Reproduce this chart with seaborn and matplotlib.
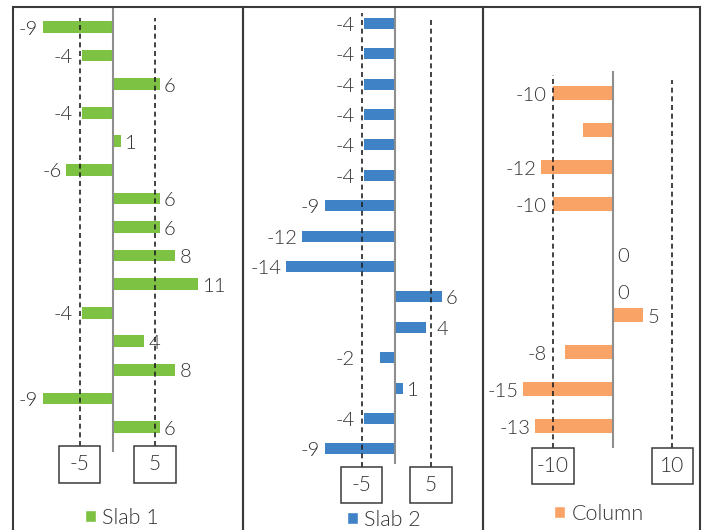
import matplotlib
matplotlib.use("Agg")
import matplotlib.pyplot as plt
import seaborn as sns
import pandas as pd
from matplotlib.patches import Rectangle, Patch

# ---- data -------------------------------------------------------------
slab1_values = [-9, -4, 6, -4, 1, -6, 6, 6, 8, 11, -4, 4, 8, -9, 6]
slab2_values = [-4, -4, -4, -4, -4, -4, -9, -12, -14, 6, 4, -2, 1, -4, -9]
column_values = [-10, -5, -12, -10, 0, 0, 5, -8, -15, -13]

slab1_labels = [str(v) for v in slab1_values]
slab2_labels = [str(v) for v in slab2_values]
column_labels = ["-10", "", "-12", "-10", "0", "0", "5", "-8", "-15", "-13"]

slab1_ticks = [-5, 5]
slab2_ticks = [-5, 5]
column_ticks = [-10, 10]

series_names = ["Slab 1", "Slab 2", "Column"]
series_colors = ["#7dc243", "#3f82c6", "#f9a366"]

# ---- figure -----------------------------------------------------------
W, H = 705, 530
DPI = 100
sns.set_theme(style="white")
plt.rcParams["font.family"] = ["Lato", "DejaVu Sans"]
TEXT = "#333333"
FRAME = "#3a3a3a"
WEIGHT = 300
PT = 72 / DPI  # points per pixel

fig = plt.figure(figsize=(W / DPI, H / DPI), dpi=DPI)


def rect_px(x0, y0, x1, y1):
    return [x0 / W, 1 - y1 / H, (x1 - x0) / W, (y1 - y0) / H]


panels = [
    dict(values=slab1_values, labels=slab1_labels, ticks=slab1_ticks,
         box=(13, 7, 243, 452), xlim=(-12.9, 16.77), ylim=(14.875, -0.70),
         tick_xlim=(-13.81, 16.66), dash_top=(18, 18), dash_bottom=446,
         box_top=446, bar_width=0.41, legend_at=(122, 518)),
    dict(values=slab2_values, labels=slab2_labels, ticks=slab2_ticks,
         box=(243, 7, 483, 464), xlim=(-19.61, 11.35), ylim=(14.497, -0.536),
         tick_xlim=(-22.13, 12.50), dash_top=(13, 17), dash_bottom=466.5,
         box_top=466.7, bar_width=0.36, legend_at=(384, 520)),
    dict(values=column_values, labels=column_labels, ticks=column_ticks,
         box=(483, 71, 700, 448), xlim=(-21.73, 14.62), ylim=(9.595, -0.595),
         tick_xlim=(-21.73, 14.62), dash_top=(75, 80), dash_bottom=448,
         box_top=447.7, bar_width=0.40, legend_at=(599, 514)),
]

for p, name, color in zip(panels, series_names, series_colors):
    x0, y0, x1, y1 = p["box"]
    ax = fig.add_axes(rect_px(x0, y0, x1, y1))
    df = pd.DataFrame({"row": [f"r{i}" for i in range(len(p["values"]))],
                       "value": p["values"]})
    sns.barplot(data=df, x="value", y="row", orient="h", color=color,
                saturation=1, width=p["bar_width"], linewidth=0, ax=ax)
    ax.set_xlim(*p["xlim"])
    ax.set_ylim(*p["ylim"])
    ax.set_axis_off()

    # zero line
    ax.axvline(0, color="#8e8e8e", lw=1.5, zorder=3)

    # reference axis carrying the dashed grid lines and boxed tick labels
    tax = ax.twiny()
    tax.set_xlim(*p["tick_xlim"])
    tax.set_axis_off()
    grid_px = [tax.transData.transform((t, 0))[0] for t in p["ticks"]]
    neg_grid, pos_grid = min(grid_px), max(grid_px)

    span = y1 - y0
    for t, top, gx in zip(p["ticks"], p["dash_top"], grid_px):
        tax.axvline(t, ymin=(y1 - p["dash_bottom"]) / span,
                    ymax=(y1 - top) / span, color="#222222", lw=1.2,
                    linestyle=(0, (3, 2.2)), clip_on=False, zorder=2)
        cx = gx / fig.dpi * DPI
        bw, bh = 41.5, 36.5
        bt = p["box_top"]
        fig.add_artist(Rectangle(((cx - bw / 2) / W, 1 - (bt + bh) / H),
                                 bw / W, bh / H, transform=fig.transFigure,
                                 facecolor="white", edgecolor=FRAME, lw=1.1,
                                 zorder=5))
        fig.text(cx / W, 1 - (bt + bh / 2) / H, str(t), ha="center",
                 va="center", fontsize=15, color=TEXT, fontweight=WEIGHT,
                 zorder=6)

    # value labels: placed next to the bar end, kept clear of a grid line
    # that sits just beyond it
    for i, (v, lab) in enumerate(zip(p["values"], p["labels"])):
        if not lab:
            continue
        end_px = ax.transData.transform((v, i))[0]
        if v < 0:
            target = min(end_px - 5, neg_grid - 6.5)
            ha = "right"
        else:
            target = end_px + 4.5
            if 0 <= pos_grid - end_px < 6:
                target = pos_grid + 5.7
            ha = "left"
        dx = (target - end_px) * PT
        dy = -1.5 if v != 0 else -11
        ax.annotate(lab, (v, i), xytext=(dx, dy), textcoords="offset points",
                    ha=ha, va="center", fontsize=14.5, color=TEXT,
                    fontweight=WEIGHT)

    # legend
    lx, ly = p["legend_at"]
    ax.legend(handles=[Patch(facecolor=color, label=name)], loc="center",
              bbox_to_anchor=(lx / W, 1 - ly / H),
              bbox_transform=fig.transFigure, frameon=False,
              prop={"family": ["Lato", "DejaVu Sans"], "size": 15.5,
                    "weight": WEIGHT},
              handlelength=0.5, handleheight=0.5, handletextpad=0.3,
              borderpad=0, borderaxespad=0, labelcolor=TEXT)

    # panel frame (open at the bottom edge of the image)
    fig.add_artist(Rectangle((x0 / W, -0.1), (x1 - x0) / W, 1.1 - 7 / H,
                             transform=fig.transFigure, facecolor="none",
                             edgecolor=FRAME, lw=1.5, zorder=10))

fig.savefig("out.png", dpi=DPI)
